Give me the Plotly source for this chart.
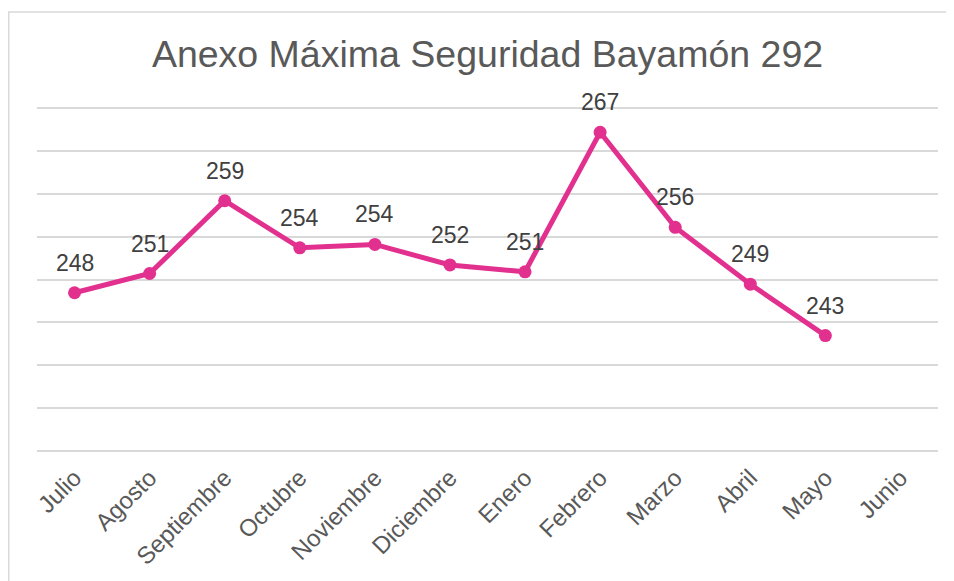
import plotly.graph_objects as go

meses = ["Julio", "Agosto", "Septiembre", "Octubre", "Noviembre", "Diciembre",
         "Enero", "Febrero", "Marzo", "Abril", "Mayo", "Junio"]
valores = [248.45, 250.7, 259.2, 253.7, 254.1, 251.7, 250.9, 267.2, 256.1, 249.45, 243.45, None]
etiquetas = ["248", "251", "259", "254", "254", "252", "251", "267", "256", "249", "243", ""]

titulo = "Anexo Máxima Seguridad Bayamón 292"
color_linea = "#E2308F"
font_family = "Liberation Sans, Arial, sans-serif"

W, H = 946, 573
L, R, T, B = 29, 16, 96, 126

fig = go.Figure()
fig.add_trace(go.Scatter(
    x=meses, y=valores, mode="lines+markers",
    line=dict(color=color_linea, width=5),
    marker=dict(color=color_linea, size=13),
    connectgaps=False, hoverinfo="x+y", showlegend=False,
))

for m, v, t in zip(meses, valores, etiquetas):
    if v is None:
        continue
    fig.add_annotation(x=m, y=v, text=t, showarrow=False, yshift=30,
                       font=dict(size=23, color="#404040", family=font_family))

pw = W - L - R
ph = H - T - B

fig.update_layout(
    width=W, height=H,
    margin=dict(l=L, r=R, t=T, b=B, autoexpand=False),
    paper_bgcolor="white", plot_bgcolor="white",
    font=dict(family=font_family, color="#595959"),
    title=dict(text=titulo, x=0.5, xref="paper", xanchor="center",
               y=1 - 46 / H, yref="container", yanchor="middle",
               font=dict(size=37.5, color="#595959", family=font_family)),
    xaxis=dict(type="category", categoryorder="array", categoryarray=meses,
               range=[-0.5, 11.5], showgrid=False, zeroline=False, showline=False,
               tickangle=-45, ticks="", ticklabelstandoff=3, automargin=False,
               tickfont=dict(size=24, color="#595959")),
    yaxis=dict(range=[229.5, 270.5], dtick=5, tick0=230, showticklabels=False,
               showgrid=True, gridcolor="#D9D9D9", gridwidth=1.5, automargin=False,
               zeroline=False, showline=False, ticks=""),
    shapes=[dict(type="rect", xref="paper", yref="paper",
                 x0=(0.75 - L) / pw, x1=(W + 20 - L) / pw,
                 y0=(-(B + 20)) / ph, y1=(ph + T - 4) / ph,
                 line=dict(color="#D9D9D9", width=1.5), fillcolor="rgba(0,0,0,0)",
                 layer="below")],
)

fig.write_html("out.html")
